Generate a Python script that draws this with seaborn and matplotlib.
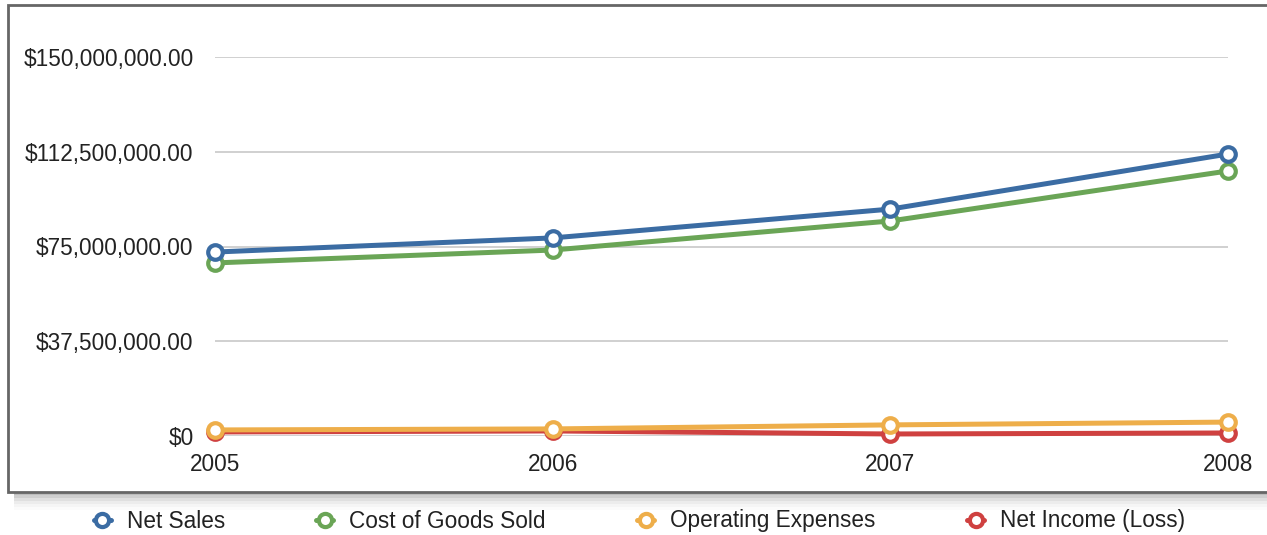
import matplotlib
matplotlib.use("Agg")
import matplotlib.pyplot as plt
from matplotlib.patches import Rectangle
from matplotlib.lines import Line2D
import seaborn as sns
import pandas as pd

years = [2005, 2006, 2007, 2008]
net_sales = [72.8e6, 78.4e6, 89.8e6, 111.6e6]
cogs = [68.5e6, 73.6e6, 85.1e6, 104.9e6]
op_exp = [2.4e6, 2.8e6, 4.4e6, 5.5e6]
net_income = [1.6e6, 2.0e6, 0.8e6, 1.2e6]
series_names = ["Net Sales", "Cost of Goods Sold", "Operating Expenses", "Net Income (Loss)"]
colors = ["#3b6ca3", "#6aa556", "#eeae4a", "#cf4140"]
y_ticks = [0, 37.5e6, 75e6, 112.5e6, 150e6]
y_tick_labels = ["$0", "$37,500,000.00", "$75,000,000.00", "$112,500,000.00", "$150,000,000.00"]

sns.set_theme(style="white")
plt.rcParams["font.family"] = ["Liberation Sans", "DejaVu Sans"]

rows = []
for name, vals in zip(series_names, [net_sales, cogs, op_exp, net_income]):
    for y, v in zip(years, vals):
        rows.append({"Year": y, "Value": v, "Series": name})
df = pd.DataFrame(rows)

FS = 16.3
W, H = 1267, 535
fig = plt.figure(figsize=(W / 100, H / 100), dpi=100)
ax = fig.add_axes([215 / W, 1 - 436 / H, (1228 - 215) / W, (436 - 57) / H])

sns.lineplot(data=df, x="Year", y="Value", hue="Series", hue_order=series_names,
             palette=colors, marker="o", markersize=10.5, linewidth=3.6,
             legend=False, ax=ax, clip_on=False)

zorders = {0: 5, 1: 4, 2: 3.5, 3: 3}
for i, line in enumerate(ax.lines[:4]):
    c = colors[i]
    line.set_markeredgecolor(c)
    line.set_markerfacecolor("white")
    line.set_markeredgewidth(3.0)
    line.set_zorder(zorders[i])
    line.set_clip_on(False)

ax.set_xlim(2005, 2008)
ax.set_ylim(0, 150e6)
ax.set_xticks(years)
ax.set_xticklabels([str(y) for y in years])
ax.set_yticks(y_ticks)
ax.set_yticklabels(y_tick_labels)
ax.set_xlabel("")
ax.set_ylabel("")
for s in ax.spines.values():
    s.set_visible(False)
ax.grid(axis="y", color="#c8c8c8", linewidth=1.2)
ax.grid(axis="x", visible=False)
ax.tick_params(axis="y", length=0, pad=15.5, labelsize=FS, labelcolor="#222222")
ax.tick_params(axis="x", length=0, pad=12.5, labelsize=FS, labelcolor="#222222")
ax.set_facecolor("none")

# outer frame with soft shadow
for k, a in enumerate([0.09, 0.07, 0.05, 0.035, 0.025, 0.015]):
    off = (k + 1) * 3
    fig.patches.append(Rectangle((14 / W, (H - 492 - off) / H), (W - 14) / W, (492 - 5) / H,
                                 transform=fig.transFigure, facecolor="black", alpha=a,
                                 edgecolor="none", zorder=-3))
fig.patches.append(Rectangle((8 / W, (H - 492) / H), (W + 10) / W, (492 - 5) / H,
                             transform=fig.transFigure, facecolor="white",
                             edgecolor="#666666", linewidth=2, zorder=-2))

handles = [Line2D([0], [0], color=c, linewidth=3.6, marker="o", markersize=9.5,
                  markerfacecolor="white", markeredgecolor=c, markeredgewidth=3.0)
           for c in colors]
fig.legend(handles, series_names, loc="center", bbox_to_anchor=(0.5 + 6 / W, 1 - 521 / H),
           ncol=4, frameon=False, fontsize=FS, handlelength=0.75, handletextpad=0.7,
           columnspacing=4.05, labelcolor="#222222")

fig.savefig("out.png", dpi=100)
